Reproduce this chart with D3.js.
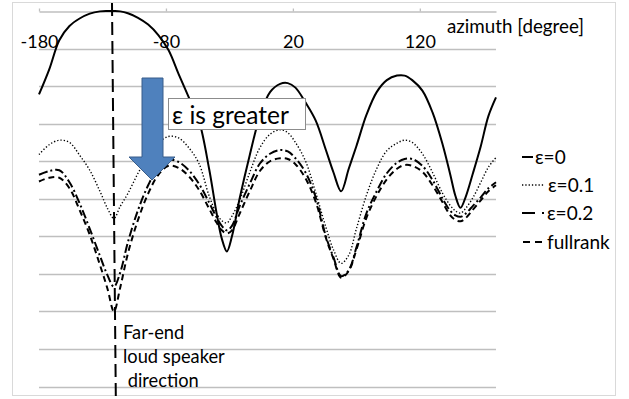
<!DOCTYPE html>
<html>
<head>
<meta charset="utf-8">
<script src="https://cdn.jsdelivr.net/npm/d3@7"></script>
<style>
  html, body { margin: 0; padding: 0; background: #fff; }
  svg { display: block; }
  text { font-family: Lato, "Open Sans", sans-serif; fill: #000; }
</style>
</head>
<body>
<svg id="chart" width="629" height="399"></svg>
<script>
// ---------------- data ----------------
const azimuth = [-180,-172,-164,-156,-148,-140,-132,-126,-121,-116,-110,-102,-94,-86,-78,-70,-62,-54,-46,-40,-36,-32,-28,-22,-14,-6,2,10,16,22,30,38,46,52,58,64,70,78,86,94,102,108,114,122,130,138,144,148,152,156,162,168,174,180];

const eps0 = [-11.1,-7.8,-3.9,-2.0,-1.0,-0.35,-0.05,0,0,-0.05,-0.3,-0.9,-1.8,-3.2,-5.2,-8.4,-11.5,-14.6,-21,-27,-30.3,-32,-30,-25,-19.2,-14,-10.8,-9.7,-9.6,-10.2,-12.2,-14.6,-18.5,-21.5,-24,-21,-18,-13.8,-10.8,-9.2,-8.6,-8.6,-9.2,-10.6,-13.5,-17.8,-21.8,-24.6,-26.2,-24.8,-21.5,-18,-14,-11.5];

const eps01 = [-19.1,-17.8,-17.2,-17.5,-19.2,-21.2,-24.0,-26.3,-27.6,-26.0,-24.3,-21.6,-19.3,-17.6,-16.7,-16.9,-18.2,-20.3,-24.6,-27,-27.9,-28.2,-27.3,-25.2,-21.5,-18.2,-16.4,-15.8,-16.2,-17.5,-20,-24.2,-28.8,-31.8,-33.6,-32.5,-29,-24.5,-21,-18.6,-17.6,-17.2,-17.5,-19,-21.5,-24.3,-25.9,-26.6,-26.9,-26.3,-24.8,-22.8,-20.8,-19.5];

const eps02 = [-21.8,-21.3,-21.2,-22.8,-25.6,-29,-32.6,-35.2,-36.7,-34.8,-30.8,-26.5,-23.2,-20.8,-19.8,-20.1,-21.2,-23,-25.5,-27.5,-28.6,-29.2,-28.6,-26,-23,-20.3,-19,-18.5,-18.7,-19.6,-21.5,-24.8,-30,-32.8,-35.3,-34.5,-31.5,-26.9,-24,-21.6,-20.2,-19.7,-19.7,-20.6,-22.5,-25,-26.6,-27.2,-27.4,-27,-25.9,-24.8,-23.6,-22.8];

const fullrank = [-22.7,-22.2,-22.2,-23.6,-26.5,-29.8,-33.8,-37,-40,-36.8,-32.3,-27.8,-24.3,-21.8,-20.6,-20.9,-22,-23.8,-26.3,-28.2,-29.2,-29.6,-29.2,-27,-24,-21.3,-20,-19.6,-19.7,-20.4,-22.3,-25.4,-30.2,-33,-35.5,-34.6,-31.8,-27.5,-24.6,-22.4,-21,-20.5,-20.6,-21.4,-23.2,-25.5,-27.2,-27.8,-28,-27.6,-26.4,-25.2,-24,-23.2];

const seriesNames = ["ε=0", "ε=0.1", "ε=0.2", "fullrank"];
const xTicks = [-180, -80, 20, 120];
const yTicks = [0,-5,-10,-15,-20,-25,-30,-35,-40,-45,-50];
const speakerAzimuth = [-122.5, -119.5]; // top, bottom of the marker line
const xTitle = "azimuth [degree]";
const boxText = "ε is greater";
const noteLines = ["Far-end", "loud speaker", " direction"];

// ---------------- drawing ----------------
const svg = d3.select("#chart");
const x = d3.scaleLinear().domain([-180, 180]).range([39, 496]);
const y = d3.scaleLinear().domain([0, -50]).range([11, 386.6]);

// outer border
svg.append("rect").attr("x", 12.5).attr("y", 2.5).attr("width", 603).attr("height", 393)
  .attr("fill", "#fff").attr("stroke", "#d9d9d9").attr("stroke-width", 1);

// horizontal gridlines
svg.append("g").selectAll("line").data(yTicks.slice(1)).join("line")
  .attr("x1", x(-180)).attr("x2", x(180))
  .attr("y1", d => Math.round(y(d)) + 0.5).attr("y2", d => Math.round(y(d)) + 0.5)
  .attr("stroke", "#bfbfbf").attr("stroke-width", 1.3);

// top x-axis
const xAxis = d3.axisTop(x).tickValues(xTicks).tickSize(3).tickSizeOuter(0).tickFormat(d => String(d));
const gx = svg.append("g").attr("transform", `translate(0,${Math.round(y(0)) + 0.5})`).call(xAxis);
gx.select(".domain").attr("stroke", "#bfbfbf").attr("stroke-width", 1.3);
gx.selectAll(".tick line").attr("stroke", "#bfbfbf").attr("stroke-width", 1.3);
gx.selectAll(".tick text").attr("y", 36.5).attr("dy", 0)
  .style("font-size", "18px").style("font-family", "Lato, sans-serif").attr("fill", "#000");

svg.append("text").attr("x", 447).attr("y", 33).style("font-size", "18.8px").text(xTitle);

// curves
const line = d3.line().x((d, i) => x(azimuth[i])).y(d => y(d)).curve(d3.curveCatmullRom.alpha(0.5));
const styles = [
  { data: eps0, dash: null, width: 2 },
  { data: eps01, dash: "1.3,2", width: 1.4 },
  { data: eps02, dash: "9,3,2,3", width: 2 },
  { data: fullrank, dash: "6,4", width: 2 }
];
const gLines = svg.append("g");
styles.slice().reverse().forEach(s => {
  gLines.append("path").attr("d", line(s.data)).attr("fill", "none")
    .attr("stroke", "#000").attr("stroke-width", s.width)
    .attr("stroke-dasharray", s.dash);
});

// speaker direction line
svg.append("line")
  .attr("x1", x(speakerAzimuth[0])).attr("y1", 3)
  .attr("x2", x(speakerAzimuth[1])).attr("y2", 396)
  .attr("stroke", "#000").attr("stroke-width", 2).attr("stroke-dasharray", "13,6");

// blue arrow
const arrow = d3.path();
arrow.moveTo(142, 78); arrow.lineTo(163, 78); arrow.lineTo(163, 157); arrow.lineTo(175, 157);
arrow.lineTo(152, 180); arrow.lineTo(129, 157); arrow.lineTo(142, 157); arrow.closePath();
svg.append("path").attr("d", arrow.toString()).attr("fill", "#4f81bd").attr("stroke", "#385d8a").attr("stroke-width", 1);

// text box
svg.append("rect").attr("x", 168.5).attr("y", 98.5).attr("width", 137).attr("height", 31)
  .attr("fill", "#fff").attr("stroke", "#8c8c8c").attr("stroke-width", 1);
svg.append("text").attr("x", 172).attr("y", 124).style("font-size", "24.5px").text(boxText);

// far-end note
svg.append("g").selectAll("text").data(noteLines).join("text")
  .attr("x", 123).attr("y", (d, i) => 339 + i * 24).style("font-size", "18.3px")
  .attr("xml:space", "preserve").style("white-space", "pre").text(d => d);

// legend
const lg = svg.append("g");
const legY = [157, 185, 213, 242];
const legLine = [[522, 533, null], [522, 545, "1.3,2"], [522, 545, "13,7,2,10"], [523, 542, "7,5"]];
const legTextX = [535, 548, 547, 547];
styles.forEach((s, i) => {
  lg.append("line").attr("x1", legLine[i][0]).attr("x2", legLine[i][1]).attr("y1", legY[i]).attr("y2", legY[i])
    .attr("stroke", "#000").attr("stroke-width", s.width)
    .attr("stroke-dasharray", legLine[i][2]);
  lg.append("text").attr("x", legTextX[i]).attr("y", legY[i] + 6.5).style("font-size", "19px").text(seriesNames[i]);
});
</script>
</body>
</html>
